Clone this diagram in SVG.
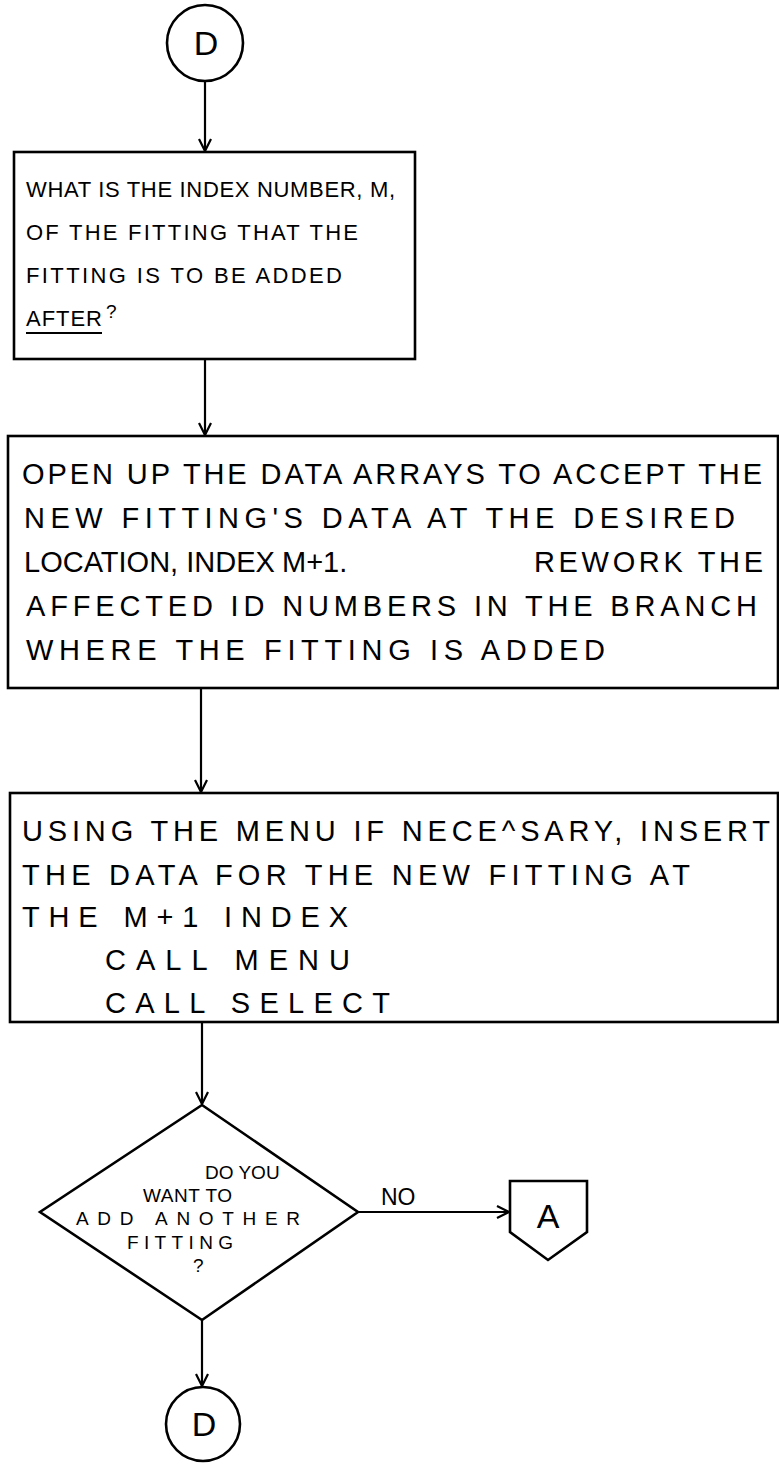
<svg xmlns="http://www.w3.org/2000/svg" width="779" height="1464" viewBox="0 0 779 1464">
<defs>
<marker id="arr" viewBox="0 0 14 14" refX="13" refY="7" markerWidth="14" markerHeight="14" markerUnits="userSpaceOnUse" orient="auto">
<path d="M1,1 L13,7 L1,13" fill="none" stroke="#000" stroke-width="2.2"/>
</marker>
<style>
.shape{fill:#fff;stroke:#000;stroke-width:2.6}
.conn{fill:none;stroke:#000;stroke-width:2.2;marker-end:url(#arr)}
.t1{font-family:"Liberation Sans",Arial,sans-serif;font-size:22px;fill:#000}
.t{font-family:"Liberation Sans",Arial,sans-serif;font-size:29px;fill:#000}
.s{font-family:"Liberation Sans",Arial,sans-serif;font-size:19px;fill:#000}
.n{font-family:"Liberation Sans",Arial,sans-serif;font-size:23px;fill:#000}
.c{font-family:"Liberation Sans",Arial,sans-serif;font-size:34px;fill:#000;text-anchor:middle}
</style>
</defs>
<rect width="779" height="1464" fill="#fff"/>
<g id="connectors">
<line class="conn" x1="205" y1="81" x2="205" y2="151"/>
<line class="conn" x1="205" y1="359" x2="205" y2="435"/>
<line class="conn" x1="201" y1="688" x2="201" y2="792"/>
<line class="conn" x1="202" y1="1022" x2="202" y2="1104"/>
<line class="conn" x1="358" y1="1212" x2="509" y2="1212"/>
<text class="n" x="381" y="1205">NO</text>
<line class="conn" x1="202" y1="1320" x2="202" y2="1386"/>
</g>
<g id="start-D">
<circle class="shape" cx="205" cy="43" r="38"/>
<text class="c" x="206" y="55">D</text>
</g>
<g id="box1">
<rect class="shape" x="14" y="152" width="401" height="207"/>
<text class="t1" x="26" y="197" textLength="369" lengthAdjust="spacing">WHAT IS THE INDEX NUMBER, M,</text>
<text class="t1" x="26" y="240" textLength="332" lengthAdjust="spacing">OF THE FITTING THAT THE</text>
<text class="t1" x="26" y="283" textLength="316" lengthAdjust="spacing">FITTING IS TO BE ADDED</text>
<text class="t1" x="26" y="326" textLength="76" lengthAdjust="spacing">AFTER</text>
<text class="s" x="106" y="318">?</text>
<line x1="26" y1="333" x2="102" y2="333" stroke="#000" stroke-width="2"/>
</g>
<g id="box2">
<rect class="shape" x="8" y="436" width="770" height="252"/>
<text class="t" x="22" y="484" textLength="740" lengthAdjust="spacing">OPEN UP THE DATA ARRAYS TO ACCEPT THE</text>
<text class="t" x="24" y="528" textLength="711" lengthAdjust="spacing">NEW FITTING'S DATA AT THE DESIRED</text>
<text class="t" x="24" y="572">LOCATION, INDEX</text>
<text class="t" x="282" y="572">M+1.</text>
<text class="t" x="534" y="572" textLength="229" lengthAdjust="spacing">REWORK THE</text>
<text class="t" x="26" y="616" textLength="731" lengthAdjust="spacing">AFFECTED ID NUMBERS IN THE BRANCH</text>
<text class="t" x="26" y="660" textLength="579" lengthAdjust="spacing">WHERE THE FITTING IS ADDED</text>
</g>
<g id="box3">
<rect class="shape" x="10" y="793" width="768" height="229"/>
<text class="t" x="22" y="841" textLength="748" lengthAdjust="spacing">USING THE MENU IF NECE^SARY, INSERT</text>
<text class="t" x="22" y="885" textLength="668" lengthAdjust="spacing">THE DATA FOR THE NEW FITTING AT</text>
<text class="t" x="22" y="927" textLength="326" lengthAdjust="spacing">THE M+1 INDEX</text>
<text class="t" x="105" y="970" textLength="245" lengthAdjust="spacing">CALL MENU</text>
<text class="t" x="105" y="1013" textLength="285" lengthAdjust="spacing">CALL SELECT</text>
</g>
<g id="decision">
<polygon class="shape" points="202,1105 358,1212 202,1320 40,1212"/>
<text class="s" x="205" y="1179">DO YOU</text>
<text class="s" x="143" y="1202" textLength="89" lengthAdjust="spacing">WANT TO</text>
<text class="s" x="76" y="1225" textLength="224" lengthAdjust="spacing">ADD ANOTHER</text>
<text class="s" x="127" y="1249" textLength="106" lengthAdjust="spacing">FITTING</text>
<text class="s" x="193" y="1272">?</text>
</g>
<g id="offpage-A">
<polygon class="shape" points="510,1181 587,1181 587,1232 548,1260 510,1232"/>
<text class="c" x="548" y="1228">A</text>
</g>
<g id="end-D">
<circle class="shape" cx="203" cy="1424" r="37"/>
<text class="c" x="204" y="1436">D</text>
</g>
</svg>
